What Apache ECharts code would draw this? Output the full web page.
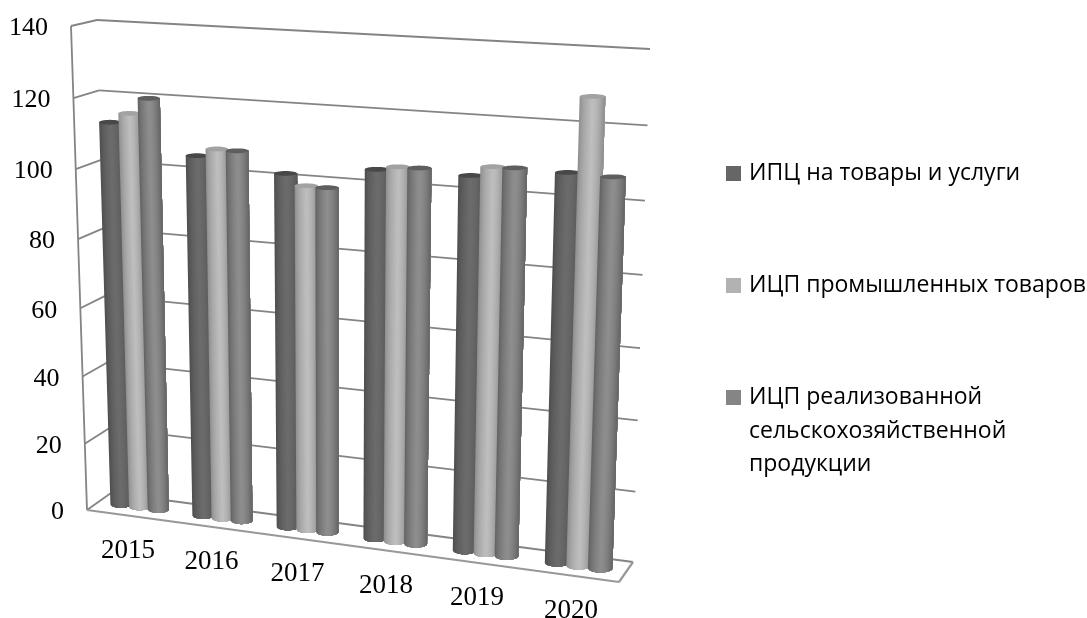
<!DOCTYPE html>
<html>
<head>
<meta charset="utf-8">
<script src="https://cdn.jsdelivr.net/npm/echarts@6/dist/echarts.min.js"></script>
<style>html,body{margin:0;padding:0;background:#fff}#c{width:1087px;height:618px}</style>
</head>
<body>
<div id="c"></div>
<script>
const years = ['2015','2016','2017','2018','2019','2020'];
const yTicks = [0,20,40,60,80,100,120,140];
const cpi = [112.5,104.8,101.7,104.7,104.9,107.6];
const ppi = [115.4,107.1,98.7,105.8,107.7,128];
const agri = [120,107,98.6,105.9,107.8,107.3];
const nameCpi = 'ИПЦ на товары и услуги';
const namePpi = 'ИЦП промышленных товаров';
const nameAgri = 'ИЦП реализованной сельскохозяйственной продукции';
const agriLines = ['ИЦП реализованной','сельскохозяйственной\nпродукции'];

const GRID = {left:87, top:26, width:532, height:484};
const FB0=[87,510], FB1=[619,582], BB0=[111,493], BB1=[633,562];
const FT0=[71,26],  FT1=[639,57],  BT0=[97,20],   BT1=[650,49];
const persU=0.916, persT=0.953;
function lerp(a,b,f){return [a[0]+(b[0]-a[0])*f,a[1]+(b[1]-a[1])*f];}
function project(u,w,t){
  const uu=persU*u/(1+(persU-1)*u);
  const tt=persT*t/(1+(persT-1)*t);
  const bot=lerp(lerp(FB0,FB1,uu),lerp(BB0,BB1,uu),w);
  const top=lerp(lerp(FT0,FT1,uu),lerp(BT0,BT1,uu),w);
  return lerp(bot,top,tt);
}
function norm(api,cat,val){
  const p=api.coord([cat,val]);
  return [(p[0]-GRID.left)/GRID.width,(GRID.top+GRID.height-p[1])/GRID.height];
}
function seg(a,b,w,c){
  return {type:'line',shape:{x1:a[0],y1:a[1],x2:b[0],y2:b[1]},style:{stroke:c||'#848484',lineWidth:w||1.8,fill:null},silent:true};
}
const frameSeries={
  type:'custom',name:'frame',coordinateSystem:'cartesian2d',z:1,silent:true,
  data:yTicks.map(v=>[0,v]),
  encode:{x:0,y:1},
  renderItem(params,api){
    const v=api.value(1);
    const t=norm(api,0,v)[1];
    const kids=[
      seg(project(0,0,t),project(0,1,t)),
      seg(project(0,1,t),project(1,1,t))
    ];
    const lab=project(0,0,t);
    kids.push({type:'text',style:{text:String(v),x:lab[0]-23,y:lab[1]+2.5,align:'right',verticalAlign:'middle',fontFamily:'"Liberation Serif"',fontSize:26,fill:'#000'}});
    if(params.dataIndex===0){
      kids.push(seg(project(0,0,0),project(0,0,1)));
      kids.push(seg(project(0,0,0),project(1,0,0),2.2,'#989898'));
      kids.push(seg(project(1,0,0),project(1,1,0),2.2,'#989898'));
    }
    return {type:'group',children:kids};
  }
};
const labelSeries={
  type:'custom',name:'years',coordinateSystem:'cartesian2d',z:1,silent:true,
  data:years.map((y,i)=>[i,0]),
  encode:{x:0,y:1},
  renderItem(params,api){
    const u=norm(api,api.value(0),0)[0];
    const p=project(u,0,0);
    return {type:'text',style:{text:years[params.dataIndex],x:p[0],y:p[1]+35,align:'center',verticalAlign:'middle',fontFamily:'"Liberation Serif"',fontSize:27,fill:'#000'}};
  }
};
function mix(shade,f){
  const v=f<0.5?shade[0]+(shade[1]-shade[0])*Math.pow(f*2,0.6):shade[1]+(shade[2]-shade[1])*Math.pow((f-0.5)*2,1.6);
  const h=Math.round(v);
  return 'rgb('+h+','+h+','+h+')';
}
function cylinder(name,vals,idx,flat,shade,cap){
  const du=0.0382, hw=du*0.56, wr=0.2, n=22;
  return {
    type:'custom',name,coordinateSystem:'cartesian2d',z:2+idx,silent:true,
    itemStyle:{color:flat},
    data:vals.map((v,i)=>[i,v]),
    encode:{x:0,y:1},
    renderItem(params,api){
      const cat=api.value(0), val=api.value(1);
      const q=norm(api,cat,val);
      const u=q[0]+(idx-1)*du, t=q[1];
      function ell(tt){
        const c=project(u,0.5,tt), l=project(u-hw,0.5,tt), r=project(u+hw,0.5,tt);
        const f=project(u,0.5-wr,tt), b=project(u,0.5+wr,tt);
        const ax=(r[0]-l[0])/2, ry=Math.max(2.4,Math.abs(f[1]-b[1])/2);
        return th=>[c[0]+ax*Math.cos(th), c[1]+ry*Math.sin(th)];
      }
      const eb=ell(0), et=ell(t), kids=[];
      const arc=[];
      for(let i=0;i<=16;i++) arc.push(Math.PI*i/16);
      for(let i=0;i<n;i++){
        const start=Math.PI-Math.acos(1-2*i/n);
        const pts=[];
        arc.filter(a=>a<=start).concat([start]).forEach(a=>pts.push(eb(a)));
        pts.push(et(start));
        pts.push(et(0));
        kids.push({type:'polygon',shape:{points:pts},style:{fill:mix(shade,(i+0.5)/n),stroke:null}});
      }
      const top=[];
      for(let i=0;i<32;i++) top.push(et(Math.PI*i/16));
      kids.push({type:'polygon',shape:{points:top},style:{fill:cap,stroke:null}});
      return {type:'group',children:kids};
    }
  };
}
const legendFont={fontFamily:'"Open Sans"',fontSize:23,color:'#000',padding:[0,0,0,3]};
function legend(name,top,fmt){
  const o={data:[name],left:726,top,padding:0,itemWidth:15,itemHeight:15,itemGap:0,icon:'rect',itemStyle:{borderWidth:0},selectedMode:false,textStyle:legendFont,orient:'vertical'};
  if(fmt) o.formatter=fmt;
  return o;
}
const option={
  animation:false,
  backgroundColor:'#fff',
  grid:GRID,
  xAxis:{type:'category',data:years,show:false,boundaryGap:true},
  yAxis:{type:'value',min:0,max:140,interval:20,show:false},
  legend:[
    legend(nameCpi,162),
    legend(namePpi,274),
    legend(nameAgri,386,()=>agriLines[0])
  ],
  graphic:[{type:'text',left:749,top:415,silent:true,style:{text:agriLines[1],fontFamily:'"Open Sans"',fontSize:23,lineHeight:33,fill:'#000'}}],
  series:[
    frameSeries,
    labelSeries,
    cylinder(nameCpi,cpi,0,'#666666',[74,108,86],'#484848'),
    cylinder(namePpi,ppi,1,'#b2b2b2',[136,190,140],'#a2a2a2'),
    cylinder(nameAgri,agri,2,'#858585',[92,142,100],'#5e5e5e')
  ]
};
echarts.init(document.getElementById('c'),null,{renderer:'canvas'}).setOption(option);
</script>
</body>
</html>
